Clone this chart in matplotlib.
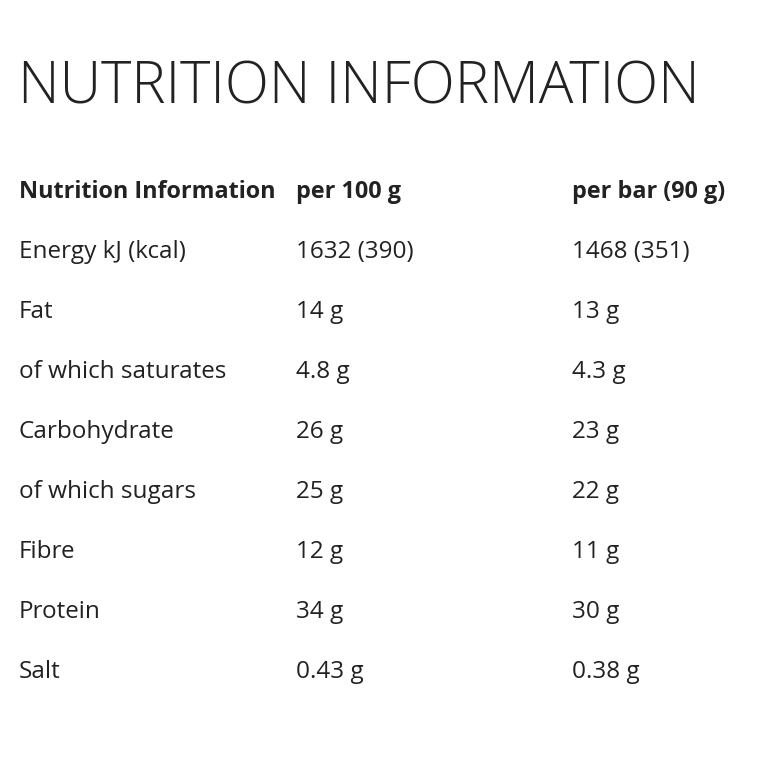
import matplotlib.pyplot as plt

title = "NUTRITION INFORMATION"
headers = ["Nutrition Information", "per 100 g", "per bar (90 g)"]
nutrients = ["Energy kJ (kcal)", "Fat", "of which saturates", "Carbohydrate",
             "of which sugars", "Fibre", "Protein", "Salt"]
per_100g = ["1632 (390)", "14 g", "4.8 g", "26 g", "25 g", "12 g", "34 g", "0.43 g"]
per_bar = ["1468 (351)", "13 g", "4.3 g", "23 g", "22 g", "11 g", "30 g", "0.38 g"]

W = H = 765
fig = plt.figure(figsize=(W / 100, H / 100), dpi=100)
fig.patch.set_facecolor("white")
col = "#222222"
font = "Open Sans"

def px(x, y):
    return x / W, 1 - y / H

col_x = [19, 296, 572]
fig.text(*px(18, 88), title, fontsize=41.5, family=font, color=col,
         fontweight="light", va="center", ha="left")

for x, h in zip(col_x, headers):
    fig.text(*px(x, 192), h, fontsize=16.8, family=font, color=col,
             fontweight="bold", va="center", ha="left")

for i, (n, a, b) in enumerate(zip(nutrients, per_100g, per_bar)):
    y = 252 + 60 * i
    for x, t in zip(col_x, (n, a, b)):
        fig.text(*px(x, y), t, fontsize=17.5, family=font, color=col,
                 va="center", ha="left")

fig.savefig("out.png", dpi=100, facecolor="white")
